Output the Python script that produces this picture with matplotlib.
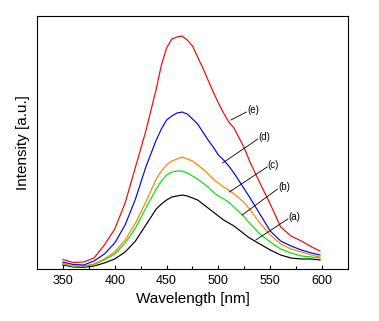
import matplotlib
matplotlib.use("Agg")
import matplotlib.pyplot as plt

# Emission spectra, samples (a)-(e)
wavelength = [350, 360, 370, 380, 390, 400, 410, 420, 430, 440, 445, 450, 455, 460,
              465, 470, 475, 480, 485, 490, 495, 500, 505, 510, 515, 520, 525, 530,
              540, 550, 560, 570, 580, 590, 598]

spec_a = [4, 2, 1.7, 3, 6, 10, 17, 28, 44, 60, 65, 69, 72, 73,
          74, 73, 71, 69, 65, 61, 57, 53, 49, 46, 43, 39, 35, 31,
          25, 19, 14, 11, 10, 10, 9]
spec_b = [5, 2.5, 2.5, 4.5, 9, 15, 26, 41, 61, 80, 88, 94, 97, 98,
          98, 96, 93, 90, 86, 82, 77, 73, 70, 67, 62, 57, 52, 46,
          35, 27, 20, 16, 13, 12, 11]
spec_c = [5.5, 3, 3, 5, 10, 17, 29, 46, 67, 90, 98, 104, 108, 110,
          112, 110, 108, 104, 100, 95, 90, 86, 82, 79, 75, 71, 66, 60,
          46, 34, 25, 20, 17, 14, 12]
spec_d = [7, 4.5, 4, 8, 15, 26, 44, 70, 102, 129, 140, 149, 153, 156,
          157, 155, 150, 145, 137, 129, 122, 114, 109, 103, 96, 88, 80, 72,
          55, 38, 28, 23, 19, 16, 14]
spec_e = [9.5, 6.5, 7, 11, 24, 40, 66, 102, 138, 180, 204, 221, 230, 232,
          233, 229, 223, 212, 201, 189, 177, 166, 156, 147, 141, 131, 121, 108,
          86, 65, 42, 33, 28, 22, 18]

labels = ["(a)", "(b)", "(c)", "(d)", "(e)"]
# leader lines: (wavelength, intensity) at each end
leader_start = [(536, 29), (523, 54), (510.5, 77), (504, 106), (512, 149)]
leader_end = [(567, 50), (557, 80), (547, 102), (538, 130), (527, 157)]

colors = ["black", "#00e600", "#ff8000", "#0000ff", "#ff0000"]
series = [spec_a, spec_b, spec_c, spec_d, spec_e]

plt.rcParams["font.family"] = ["Liberation Sans", "DejaVu Sans"]

fig = plt.figure(figsize=(3.79, 3.21), dpi=100)
ax = fig.add_axes([0.0976, 0.162, 0.8206, 0.788])

for ys, c in zip(series, colors):
    ax.plot(wavelength, ys, color=c, lw=0.85)

for lab, (x0, y0), (x1, y1) in zip(labels, leader_start, leader_end):
    ax.plot([x0, x1], [y0, y1], color="black", lw=0.6)
    ax.text(x1 + 0.5, y1 + 2.5, lab, fontsize=7, ha="left", va="center")

ax.set_xlim(325, 625)
ax.set_ylim(0, 253)
ax.set_xticks([350, 400, 450, 500, 550, 600])
ax.set_xticks([375, 425, 475, 525, 575], minor=True)
ax.set_yticks([])
ax.tick_params(axis="x", which="major", direction="in", length=3, width=0.8,
               labelsize=9, pad=4)
ax.tick_params(axis="x", which="minor", direction="in", length=2, width=0.8)
for s in ax.spines.values():
    s.set_linewidth(0.8)

ax.set_xlabel("Wavelength [nm]", fontsize=11, labelpad=4)
ax.set_ylabel("Intensity [a.u.]", fontsize=11, labelpad=5)

fig.savefig("out.png", dpi=100)
